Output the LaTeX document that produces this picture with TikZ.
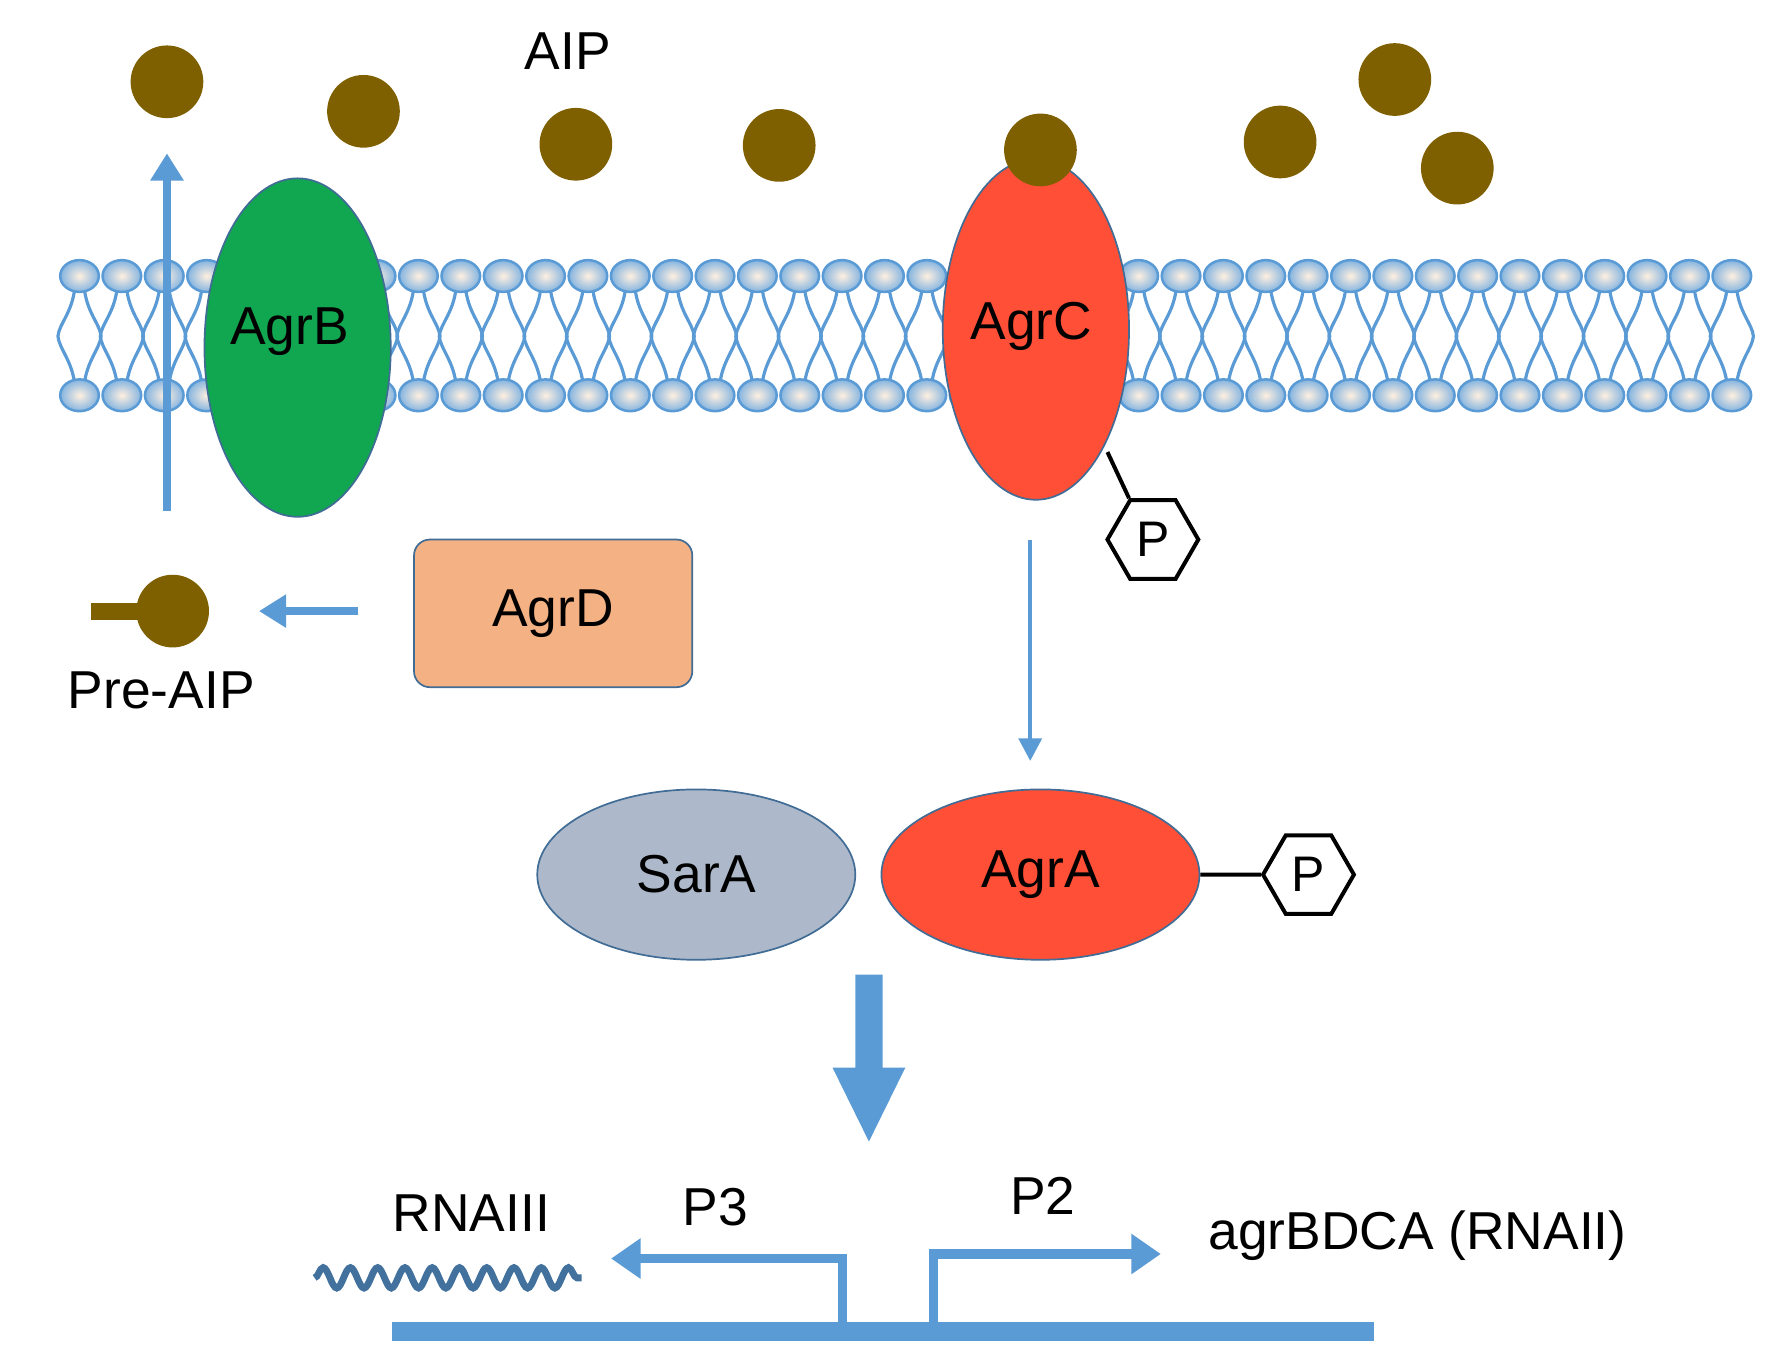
\documentclass[tikz,border=0pt]{standalone}
\usepackage{fontspec}
\setmainfont{Liberation Sans}
\usetikzlibrary{arrows.meta,shapes.geometric,decorations.pathmorphing}
\definecolor{aip}{HTML}{7F6000}
\definecolor{memb}{HTML}{5B9BD5}
\definecolor{agrb}{HTML}{11A650}
\definecolor{agrred}{HTML}{FF4F36}
\definecolor{agrd}{HTML}{F4B183}
\definecolor{sara}{HTML}{ADB9CA}
\definecolor{wave}{HTML}{41719C}
\begin{document}
\begin{tikzpicture}[x=1pt,y=-1pt,
  lbl/.style={font=\fontsize{47}{52}\selectfont},
  dot/.style={circle,fill=aip,minimum size=64pt,inner sep=0pt},
  hex/.style={regular polygon,regular polygon sides=6,draw=black,line width=3.5pt,fill=white,minimum size=80pt,inner sep=0pt,font=\fontsize{44}{48}\selectfont},
  prot/.style={ellipse,draw=memb!70!black,line width=1.5pt,inner sep=0pt},
  barrow/.style={draw=memb,line width=6.5pt,-{Triangle[length=24pt,width=28pt]}}]
\useasboundingbox (0,0) rectangle (1568,1203);
% membrane
\foreach \i in {0,...,39}{
  \pgfmathsetmacro\x{70+\i*37.3}
  \draw[memb,line width=2.8pt] (\x-4,252) .. controls (\x-6,275) and (\x-18,285) .. (\x-19,296) .. controls (\x-18,307) and (\x-6,318) .. (\x-4,340);
  \draw[memb,line width=2.8pt] (\x+4,252) .. controls (\x+6,275) and (\x+18,285) .. (\x+19,296) .. controls (\x+18,307) and (\x+6,318) .. (\x+4,340);
}
\foreach \i in {0,...,39}{
  \pgfmathsetmacro\x{70+\i*37.3}
  \shade[inner color=orange!12!white,outer color=memb!75!white,draw=memb,line width=2.2pt] (\x,243) ellipse (17pt and 14pt);
  \shade[inner color=orange!12!white,outer color=memb!75!white,draw=memb,line width=2.2pt] (\x,348) ellipse (17pt and 14pt);
}
% AIP
\node[dot] (a1) at (147,72) {};
\node[dot] (a2) at (320,98) {};
\node[dot] (a3) at (507,127) {};
\node[dot] (a4) at (686,128) {};
\node[dot] (a6) at (1127,125) {};
\node[dot] (a7) at (1228,70) {};
\node[dot] (a8) at (1283,148) {};
\node[lbl] (aiptxt) at (500,45) {AIP};
% AgrB and up arrow
\coordinate (upS) at (147,450);
\coordinate (upE) at (147,135);
\draw[barrow] (upS) -- (upE);
\node[prot,fill=agrb,minimum width=164pt,minimum height=298pt] (agrb) at (262,306) {};
\node[lbl] at (255,292) {AgrB};
% AgrC
\node[prot,fill=agrred,minimum width=164pt,minimum height=300pt] (agrc) at (912,290) {};
\node[lbl] at (908,287) {AgrC};
\node[dot] (a5) at (916,132) {};
\node[hex] (p1) at (1015,475) {P};
\draw[line width=3.5pt] (975,398) -- (p1.corner 2);
% AgrA, SarA
\node[prot,fill=agrred,minimum width=280pt,minimum height=150pt,lbl] (agra) at (916,770) {AgrA};
\node[prot,fill=sara,minimum width=280pt,minimum height=150pt,lbl] (sara) at (613,770) {SarA};
\coordinate (cS) at (907,475);
\coordinate (cE) at (907,670);
\draw[memb,line width=4pt,-{Triangle[length=20pt,width=20pt]}] (cS) -- (cE);
\node[hex] (p2) at (1152,770) {P};
\draw[line width=3.5pt] (agra.east) -- (p2.west);
% AgrD and Pre-AIP
\node[draw=memb!70!black,line width=1.5pt,fill=agrd,rounded corners=14pt,minimum width=245pt,minimum height=130pt,lbl] (agrd) at (487,540) {AgrD};
\fill[aip] (80,531) rectangle (130,546);
\node[dot] (pre) at (152,538) {};
\node[lbl] (pretxt) at (142,608) {Pre-AIP};
\coordinate (dS) at (315,538);
\coordinate (dE) at (228,538);
\draw[barrow] (dS) -- (dE);
% big arrow
\fill[memb] (753,858) -- (777,858) -- (777,940) -- (797,940) -- (765,1005) -- (733,940) -- (753,940) -- cycle;
% DNA
\fill[memb] (345,1164) rectangle (1210,1181);
\coordinate (p3a) at (742,1165);
\coordinate (p3b) at (742,1108);
\coordinate (p3c) at (538,1108);
\draw[memb,line width=8pt,-{Triangle[length=26pt,width=34pt]}] (p3a) -- (p3b) -- (p3c);
\coordinate (p2a) at (822,1165);
\coordinate (p2b) at (822,1104);
\coordinate (p2c) at (1022,1104);
\draw[memb,line width=8pt,-{Triangle[length=26pt,width=34pt]}] (p2a) -- (p2b) -- (p2c);
\draw[wave,line width=6pt,decorate,decoration={snake,amplitude=9pt,segment length=24pt}] (277,1125) -- (512,1125);
\node[lbl] at (415,1068) {RNAIII};
\node[lbl] at (630,1063) {P3};
\node[lbl] at (918,1053) {P2};
\node[lbl] at (1248,1088) {agrBDCA (RNAII)};
\end{tikzpicture}
\end{document}
